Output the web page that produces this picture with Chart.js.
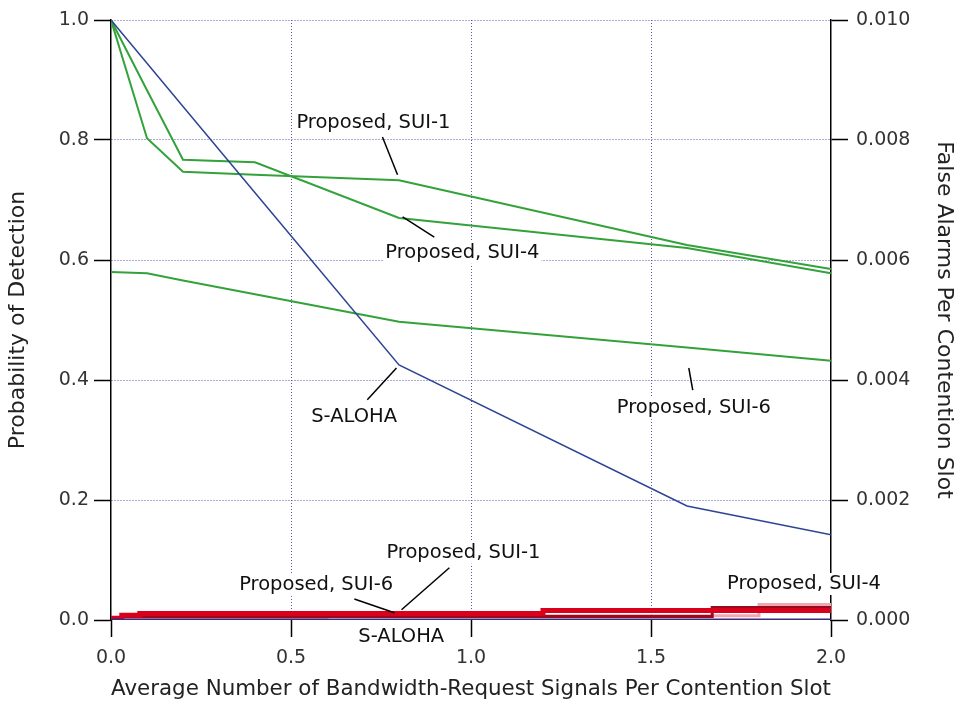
<!DOCTYPE html>
<html>
<head>
<meta charset="utf-8">
<script src="https://cdn.jsdelivr.net/npm/chart.js@4.4.0/dist/chart.umd.min.js"></script>
<style>
  body { margin: 0; background: #fff; }
  canvas { display: block; }
</style>
</head>
<body>
<canvas id="grafico" width="958" height="713"></canvas>
<script>
// deteccao (eixo esquerdo)
var xDeteccao = [0, 0.1, 0.2, 0.4, 0.8, 1.6, 2.0];
var detSui1 = [1.0, 0.803, 0.747, 0.742, 0.733, 0.625, 0.585];
var detSui4 = [1.0, 0.883, 0.767, 0.763, 0.670, 0.620, 0.578];
var detSui6 = [0.580, 0.578, 0.566, 0.543, 0.497, 0.454, 0.432];
var detAloha = [1.0, 0.928, 0.856, 0.712, 0.425, 0.190, 0.142];

// falsos alarmes (eixo direito)
var xAlarmes = [0, 0.03, 0.08, 0.6, 1.2, 1.67, 1.8, 1.93, 2.0];
var faSui1 = [0, 0.00003, 0.00008, 0.00011, 0.00011, 0.00016, 0.00016, 0.00016, 0.00016];
var faSui4 = [0, 0.00002, 0.00006, 0.00006, 0.00006, 0.00006, 0.00021, 0.00021, 0.00021];
var faSui6 = [0, 0.00001, 0.00003, 0.00003, 0.00007, 0.00007, 0.00007, 0.00026, 0.00026];
var faAloha = [0, 0, 0, 0, 0, 0, 0, 0, 0];

var ticksX = [0, 0.5, 1.0, 1.5, 2.0];
var ticksDet = [0, 0.2, 0.4, 0.6, 0.8, 1.0];
var ticksAlarme = [0, 0.002, 0.004, 0.006, 0.008, 0.010];

// rotulos das curvas, em coordenadas do eixo esquerdo
var rotulos = [
    { texto: 'Proposed, SUI-1', x: 0.515, y: 0.828, linha: [0.754, 0.805, 0.796, 0.742] },
    { texto: 'Proposed, SUI-4', x: 0.762, y: 0.612, linha: [0.810, 0.672, 0.898, 0.638] },
    { texto: 'S-ALOHA', x: 0.556, y: 0.338, linha: [0.793, 0.420, 0.712, 0.367] },
    { texto: 'Proposed, SUI-6', x: 1.405, y: 0.353, linha: [1.605, 0.420, 1.616, 0.383] },
    { texto: 'Proposed, SUI-1', x: 0.765, y: 0.112, linha: [0.940, 0.087, 0.807, 0.017] },
    { texto: 'Proposed, SUI-6', x: 0.356, y: 0.058, linha: [0.676, 0.035, 0.787, 0.012] },
    { texto: 'Proposed, SUI-4', x: 1.711, y: 0.060, linha: null },
    { texto: 'S-ALOHA', x: 0.687, y: -0.028, linha: null }
];

function pontos(xs, ys) {
    var lista = [];
    for (var i = 0; i < xs.length; i++) {
        lista.push({ x: xs[i], y: ys[i] });
    }
    return lista;
}

var pluginRotulos = {
    id: 'rotulos',
    afterDraw: function (chart) {
        var ctx = chart.ctx;
        var sx = chart.scales.x;
        var sy = chart.scales.y;
        ctx.save();
        ctx.font = '19.5px "DejaVu Sans"';
        ctx.textBaseline = 'middle';
        ctx.textAlign = 'left';
        rotulos.forEach(function (r) {
            if (r.linha) {
                ctx.strokeStyle = '#000';
                ctx.lineWidth = 1.5;
                ctx.beginPath();
                ctx.moveTo(sx.getPixelForValue(r.linha[0]), sy.getPixelForValue(r.linha[1]));
                ctx.lineTo(sx.getPixelForValue(r.linha[2]), sy.getPixelForValue(r.linha[3]));
                ctx.stroke();
            }
            var px = sx.getPixelForValue(r.x);
            var py = sy.getPixelForValue(r.y);
            var w = ctx.measureText(r.texto).width;
            ctx.fillStyle = '#fff';
            ctx.fillRect(px - 2, py - 11, w + 4, 22);
            ctx.fillStyle = '#111';
            ctx.fillText(r.texto, px, py);
        });
        ctx.restore();
    }
};

var corGrade = '#5656a8';

var config = {
    type: 'line',
    data: {
        datasets: [
            { label: 'S-ALOHA FA', data: pontos(xAlarmes, faAloha), yAxisID: 'y2', borderColor: '#3b2a80', borderWidth: 3, stepped: 'after' },
            { label: 'SUI-1 FA', data: pontos(xAlarmes, faSui1), yAxisID: 'y2', borderColor: '#d8001a', borderWidth: 5, stepped: 'after' },
            { label: 'SUI-4 FA', data: pontos(xAlarmes, faSui4), yAxisID: 'y2', borderColor: '#9a0a1c', borderWidth: 3, stepped: 'after' },
            { label: 'SUI-6 FA', data: pontos(xAlarmes, faSui6), yAxisID: 'y2', borderColor: '#f2a6ae', borderWidth: 3, stepped: 'after' },
            { label: 'S-ALOHA', data: pontos(xDeteccao, detAloha), yAxisID: 'y', borderColor: '#2d4496', borderWidth: 1.5 },
            { label: 'SUI-1', data: pontos(xDeteccao, detSui1), yAxisID: 'y', borderColor: '#33a23a', borderWidth: 2 },
            { label: 'SUI-4', data: pontos(xDeteccao, detSui4), yAxisID: 'y', borderColor: '#33a23a', borderWidth: 2 },
            { label: 'SUI-6', data: pontos(xDeteccao, detSui6), yAxisID: 'y', borderColor: '#33a23a', borderWidth: 2 }
        ]
    },
    options: {
        responsive: false,
        devicePixelRatio: 1,
        animation: false,
        layout: { padding: { top: 20, left: 0, right: 0, bottom: 0 } },
        elements: { point: { radius: 0 }, line: { tension: 0, fill: false } },
        plugins: { legend: { display: false }, tooltip: { enabled: false } },
        scales: {
            x: {
                type: 'linear',
                position: 'bottom',
                min: 0,
                max: 2,
                afterBuildTicks: function (s) { s.ticks = ticksX.map(function (v) { return { value: v }; }); },
                afterFit: function (s) { s.height = 93; },
                ticks: {
                    callback: function (v) { return v.toFixed(1); },
                    font: { family: 'DejaVu Sans', size: 19 },
                    color: '#333',
                    padding: 10,
                    maxRotation: 0,
                    autoSkip: false
                },
                grid: {
                    color: function (c) { return (c.tick && (c.tick.value === 0 || c.tick.value === 2)) ? 'rgba(0,0,0,0)' : corGrade; },
                    lineWidth: 1,
                    tickColor: '#000',
                    tickLength: 17,
                    tickWidth: 1.5
                },
                border: { display: false, dash: [1, 2] },
                title: {
                    display: true,
                    text: 'Average Number of Bandwidth-Request Signals Per Contention Slot',
                    font: { family: 'DejaVu Sans', size: 22 },
                    color: '#222',
                    padding: { top: 0, bottom: 11 }
                }
            },
            y: {
                type: 'linear',
                position: 'left',
                min: 0,
                max: 1,
                afterBuildTicks: function (s) { s.ticks = ticksDet.map(function (v) { return { value: v }; }); },
                afterFit: function (s) { s.width = 111; },
                ticks: {
                    callback: function (v) { return v.toFixed(1); },
                    font: { family: 'DejaVu Sans', size: 19 },
                    color: '#333',
                    padding: 5
                },
                grid: {
                    color: function (c) { return (c.tick && c.tick.value === 0) ? 'rgba(0,0,0,0)' : corGrade; },
                    lineWidth: 1,
                    tickColor: '#000',
                    tickLength: 17,
                    tickWidth: 1.5
                },
                border: { display: true, color: '#000', width: 1.5, dash: [1, 2] },
                title: {
                    display: true,
                    text: 'Probability of Detection',
                    font: { family: 'DejaVu Sans', size: 22 },
                    color: '#222',
                    padding: { top: 5, bottom: 0 }
                }
            },
            y2: {
                type: 'linear',
                position: 'right',
                min: 0,
                max: 0.01,
                afterBuildTicks: function (s) { s.ticks = ticksAlarme.map(function (v) { return { value: v }; }); },
                afterFit: function (s) { s.width = 127; },
                ticks: {
                    callback: function (v) { return v.toFixed(3); },
                    font: { family: 'DejaVu Sans', size: 19 },
                    color: '#333',
                    padding: 8
                },
                grid: {
                    drawOnChartArea: false,
                    tickColor: '#000',
                    tickLength: 17,
                    tickWidth: 1.5
                },
                border: { display: true, color: '#000', width: 1.5 },
                title: {
                    display: true,
                    text: 'False Alarms Per Contention Slot',
                    font: { family: 'DejaVu Sans', size: 22 },
                    color: '#222',
                    padding: { top: 1, bottom: 0 }
                }
            }
        }
    },
    plugins: [pluginRotulos]
};

function plotarGrafico() {
    var ctx = document.getElementById('grafico').getContext('2d');
    window.graficoLinha = new Chart(ctx, config);
}

plotarGrafico();
</script>
</body>
</html>
